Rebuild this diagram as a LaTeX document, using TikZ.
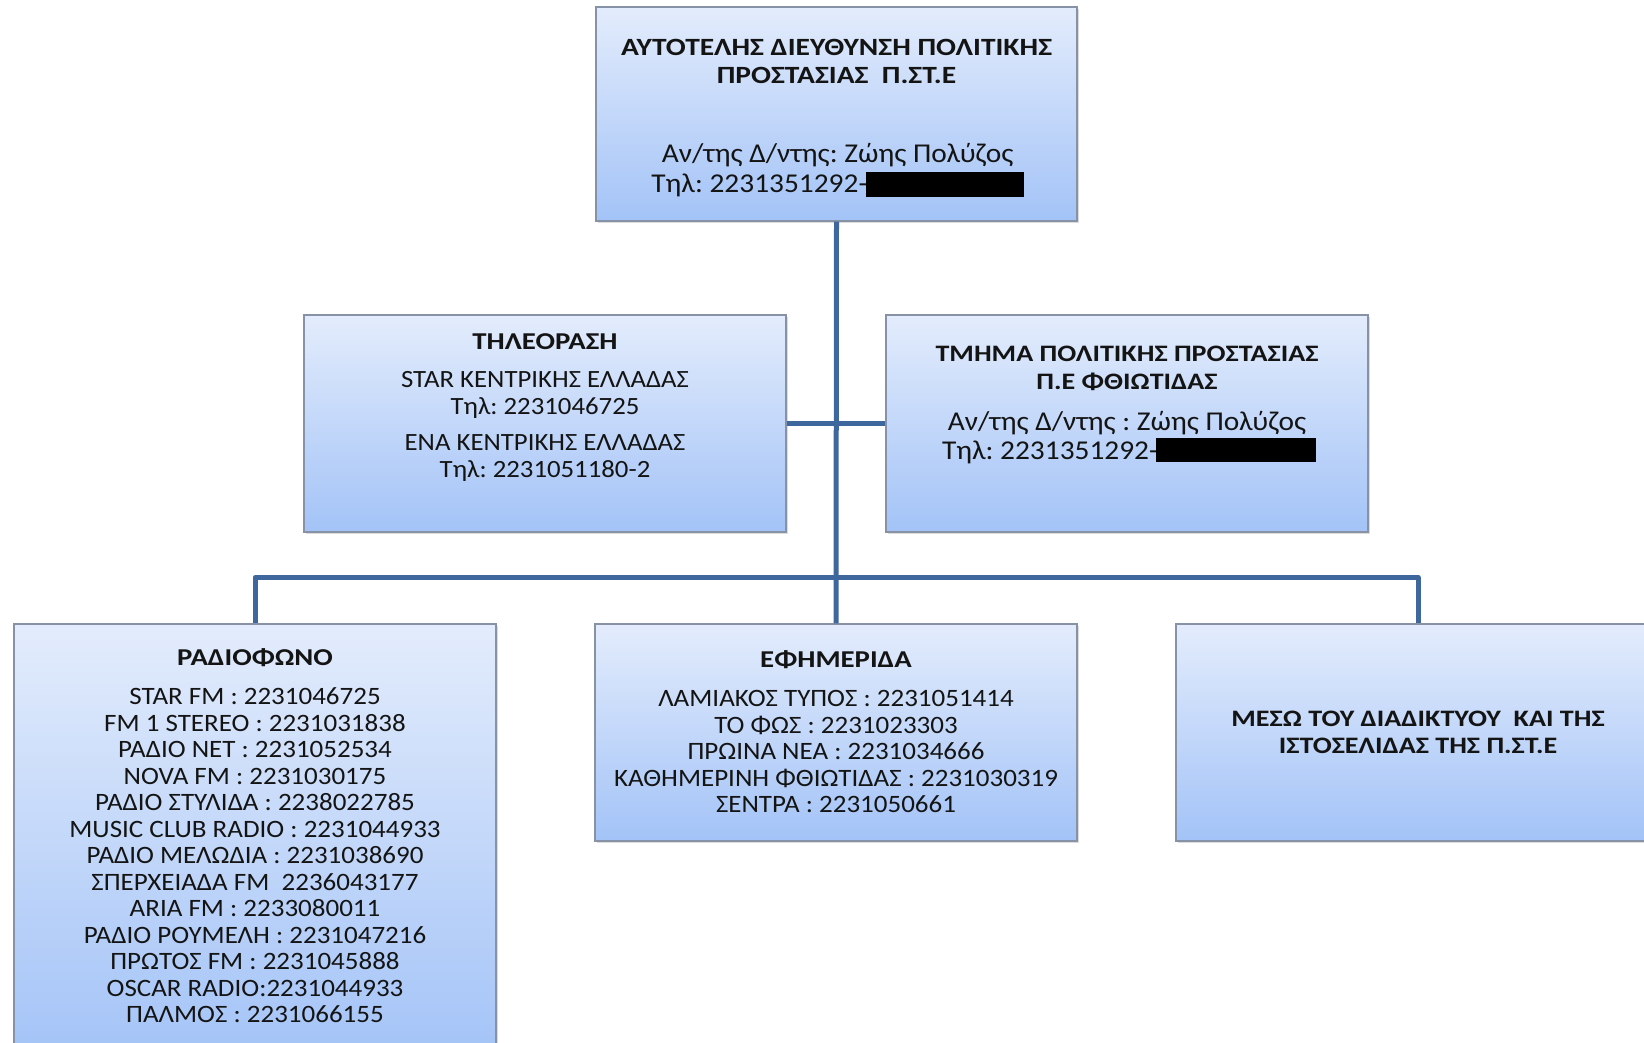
\documentclass[tikz,border=0pt]{standalone}
\usepackage{fontspec}
\setmainfont{Carlito}
\newfontfamily\regfam[FakeStretch=1.08]{Carlito}
\newfontfamily\ttlfam[FakeStretch=1.19]{Carlito}
\usetikzlibrary{shadows}
\definecolor{conncol}{RGB}{62,103,158}
\definecolor{boxtop}{RGB}{227,236,252}
\definecolor{boxbot}{RGB}{163,195,247}
\definecolor{boxline}{RGB}{135,146,166}
\definecolor{txt}{RGB}{20,20,20}
\begin{document}
\frenchspacing
\begin{tikzpicture}[x=0.5pt,y=-0.5pt,
  box/.style={rectangle, draw=boxline, line width=0.6pt, top color=boxtop, bottom color=boxbot,
    minimum width=241pt, minimum height=108.5pt, inner sep=0pt,
    drop shadow={shadow xshift=1.2pt, shadow yshift=-1.2pt, opacity=0.28}},
  conn/.style={draw=conncol, line width=2.5pt, line join=round},
  ttlA/.style={font=\ttlfam\bfseries\fontsize{12.4}{14.15}\selectfont, align=center, inner sep=0pt, text=txt},
  ttlB/.style={font=\ttlfam\bfseries\fontsize{11.8}{13.65}\selectfont, align=center, inner sep=0pt, text=txt},
  ttlC/.style={font=\ttlfam\bfseries\fontsize{12.1}{13.6}\selectfont, align=center, inner sep=0pt, text=txt},
  bodyA/.style={font=\regfam\fontsize{13.6}{14.7}\selectfont, align=center, inner sep=0pt, text=txt},
  bodyB/.style={font=\regfam\fontsize{12.4}{13.6}\selectfont, align=center, inner sep=0pt, text=txt},
  list/.style={font=\regfam\fontsize{12.5}{13.24}\selectfont, align=center, inner sep=0pt, text=txt},
  redact/.style={rectangle, fill=black, inner sep=0pt}
]
\useasboundingbox (0,0) rectangle (1644,1043);
\clip (0,0) rectangle (1644,1043);

% boxes
\node[box, minimum width=240.5pt, minimum height=107pt] (top) at (836.5,114) {};
\node[box] (tv) at (545,423.5) {};
\node[box] (tmima) at (1127,423.5) {};
\node[box, minimum height=218pt] (radio) at (255,842) {};
\node[box] (efim) at (836,732.5) {};
\node[box, minimum width=242pt] (web) at (1418,732.5) {};

% connectors
\draw[conn] (top.south) -- (efim.north);
\draw[conn] (tv.east) -- (tmima.west);
\draw[conn] (radio.north) -- ++(0,-46) -| (web.north);

% top box text
\node[ttlA] (topT) at (836.5,61.4) {ΑΥΤΟΤΕΛΗΣ ΔΙΕΥΘΥΝΣΗ ΠΟΛΙΤΙΚΗΣ\\ΠΡΟΣΤΑΣΙΑΣ\ \ Π.ΣΤ.Ε};
\node[bodyA, anchor=base] (topB1) at (837.7,162.8) {Αν/της Δ/ντης: Ζώης Πολύζος};
\node[bodyA, anchor=base west] (topB2) at (651,192.3) {Τηλ: 2231351292-};
\node[redact, minimum width=79pt, minimum height=12.5pt] (redA) at (945,184.5) {};

% TV
\node[ttlC, anchor=base] (tvT) at (545,349.8) {ΤΗΛΕΟΡΑΣΗ};
\node[bodyB] (tvB1) at (545,395) {STAR ΚΕΝΤΡΙΚΗΣ ΕΛΛΑΔΑΣ\\Τηλ: 2231046725};
\node[bodyB] (tvB2) at (545,458) {ΕΝΑ ΚΕΝΤΡΙΚΗΣ ΕΛΛΑΔΑΣ\\Τηλ: 2231051180-2};

% Tmima
\node[ttlB] (tmT) at (1127,368.5) {ΤΜΗΜΑ ΠΟΛΙΤΙΚΗΣ ΠΡΟΣΤΑΣΙΑΣ\\Π.Ε ΦΘΙΩΤΙΔΑΣ};
\node[bodyA, anchor=base] (tmB1) at (1127,430.3) {Αν/της Δ/ντης : Ζώης Πολύζος};
\node[bodyA, anchor=base west] (tmB2) at (941.6,459.6) {Τηλ: 2231351292-};
\node[redact, minimum width=80pt, minimum height=12pt] (redB) at (1236,450) {};

% Radio
\node[ttlC, anchor=base] (radT) at (255,665.2) {ΡΑΔΙΟΦΩΝΟ};
\node[list] (radL) at (255,855.5) {STAR FM : 2231046725\\
FM 1 STEREO : 2231031838\\
ΡΑΔΙΟ NET : 2231052534\\
NOVA FM : 2231030175\\
ΡΑΔΙΟ ΣΤΥΛΙΔΑ : 2238022785\\
MUSIC CLUB RADIO : 2231044933\\
ΡΑΔΙΟ ΜΕΛΩΔΙΑ : 2231038690\\
ΣΠΕΡΧΕΙΑΔΑ FM\ \ 2236043177\\
ARIA FM : 2233080011\\
ΡΑΔΙΟ ΡΟΥΜΕΛΗ : 2231047216\\
ΠΡΩΤΟΣ FM : 2231045888\\
OSCAR RADIO:2231044933\\
ΠΑΛΜΟΣ : 2231066155};

% Efimerida
\node[ttlC, anchor=base] (efT) at (836,667.3) {ΕΦΗΜΕΡΙΔΑ};
\node[list] (efL) at (836,751.7) {ΛΑΜΙΑΚΟΣ ΤΥΠΟΣ : 2231051414\\
ΤΟ ΦΩΣ : 2231023303\\
ΠΡΩΙΝΑ ΝΕΑ : 2231034666\\
ΚΑΘΗΜΕΡΙΝΗ ΦΘΙΩΤΙΔΑΣ : 2231030319\\
ΣΕΝΤΡΑ : 2231050661};

% Web
\node[ttlB] (webT) at (1418,732.4) {ΜΕΣΩ ΤΟΥ ΔΙΑΔΙΚΤΥΟΥ\ \ ΚΑΙ ΤΗΣ\\ΙΣΤΟΣΕΛΙΔΑΣ ΤΗΣ Π.ΣΤ.Ε};
\end{tikzpicture}
\end{document}
